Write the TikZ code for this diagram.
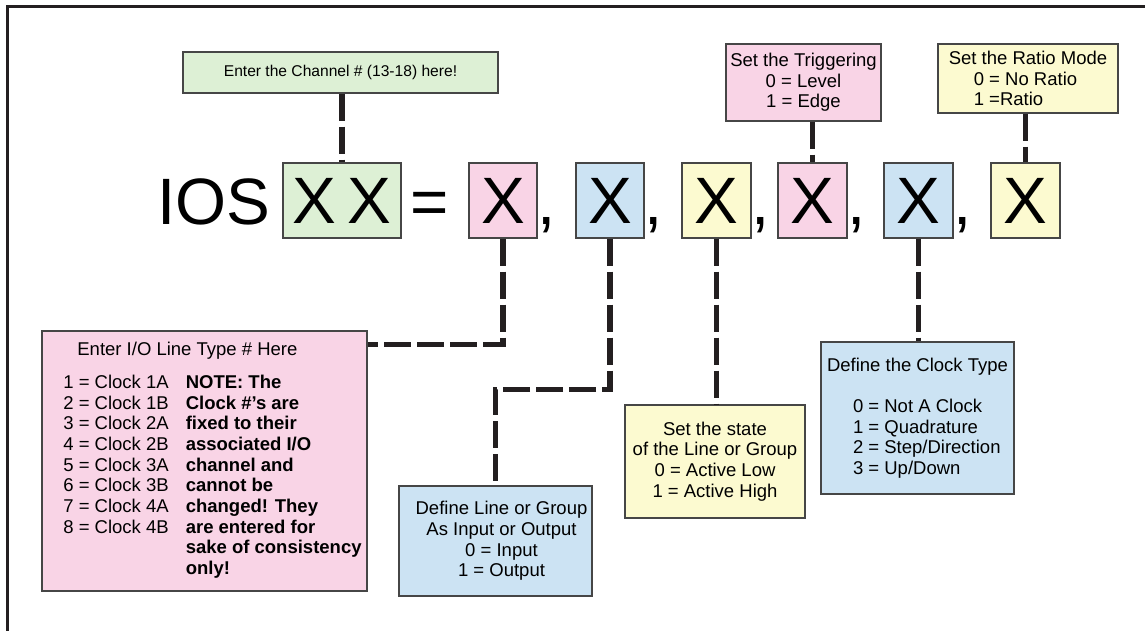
\documentclass[tikz,border=0pt]{standalone}
\usepackage{fontspec}
\setmainfont{Liberation Sans}
\definecolor{greenfill}{RGB}{221,240,213}
\definecolor{pinkfill}{RGB}{249,212,230}
\definecolor{bluefill}{RGB}{204,227,243}
\definecolor{yellowfill}{RGB}{252,250,208}
\definecolor{boxedge}{RGB}{70,70,70}
\definecolor{ink}{RGB}{35,31,32}
\newcommand{\notefont}{\fontsize{18.5pt}{20.7pt}\selectfont}
\newcommand{\signfont}{\fontsize{65.6pt}{70pt}\selectfont}
\tikzset{
  box/.style={draw=boxedge, line width=1.2pt, inner sep=0pt, align=center, font=\notefont},
  xbox/.style={box, minimum width=69pt, minimum height=75pt, font=\signfont},
  sign/.style={inner sep=0pt, font=\signfont},
  link/.style={draw=ink, line width=5.5pt, dash pattern=on 27pt off 6pt},
}
\begin{document}
\begin{tikzpicture}[x=1pt,y=-1pt]
    \useasboundingbox (0,0) rectangle (1145,631);
    \draw[ink, line width=3pt] (7,640) -- (7,7) -- (1150,7);
    \coordinate (base) at (0,224);

    % the command line
    \node[sign, anchor=base west] (ios) at (157,224) {IOS};
    \node[xbox, fill=greenfill, minimum width=118pt] (xx) at (342,200.5) {X\,X};
    \node[sign, anchor=base] (eq) at (430,224) {=};
    \node[xbox, fill=pinkfill, minimum width=68pt] (p1) at (503,200.5) {X};
    \node[xbox, fill=bluefill, minimum width=68pt] (b1) at (610,200.5) {X};
    \node[xbox, fill=yellowfill] (y1) at (716.5,200.5) {X};
    \node[xbox, fill=pinkfill] (p2) at (812.5,200.5) {X};
    \node[xbox, fill=bluefill] (b2) at (918.5,200.5) {X};
    \node[xbox, fill=yellowfill] (y2) at (1025.5,200.5) {X};
    \foreach \b in {p1,b1,y1,p2,b2}
        \node[sign, anchor=base west] (c-\b) at (\b.east |- base) {,};

    % notes above
    \node[box, fill=greenfill, minimum width=315pt, minimum height=41pt,
          font=\fontsize{15.6pt}{18pt}\selectfont] (chan) at (340.5,72.5)
          {Enter the Channel \# (13-18) here!};
    \node[box, fill=pinkfill, minimum width=155pt, minimum height=77pt] (trig) at (803.5,82.5)
          {Set the Triggering\\0 = Level\\1 = Edge};
    \node[box, fill=yellowfill, minimum width=180pt, minimum height=69pt, align=left] (ratio) at (1028,78.5)
          {Set the Ratio Mode\\\hspace*{25pt}0 = No Ratio\\\hspace*{25pt}1 =Ratio};

    % notes below
    \node[box, fill=pinkfill, minimum width=325pt, minimum height=260pt] (io) at (204.5,461) {%
        \begin{tabular}{@{\hspace{16pt}}l@{\hspace{17pt}}l@{}}
        \multicolumn{2}{@{\hspace{30pt}}l@{}}{Enter I/O Line Type \# Here}\\[12pt]
        1 = Clock 1A & \textbf{NOTE: The}\\
        2 = Clock 1B & \textbf{Clock \#’s are}\\
        3 = Clock 2A & \textbf{fixed to their}\\
        4 = Clock 2B & \textbf{associated I/O}\\
        5 = Clock 3A & \textbf{channel and}\\
        6 = Clock 3B & \textbf{cannot be}\\
        7 = Clock 4A & \textbf{changed! They}\\
        8 = Clock 4B & \textbf{are entered for}\\
                     & \textbf{sake of consistency}\\
                     & \textbf{only!}
        \end{tabular}};
    \node[box, fill=bluefill, minimum width=193pt, minimum height=110pt] (def) at (495.5,541)
          {\hspace*{12pt}Define Line or Group\\\hspace*{12pt}As Input or Output\\\hspace*{12pt}0 = Input\\\hspace*{12pt}1 = Output};
    \node[box, fill=yellowfill, minimum width=180pt, minimum height=113pt] (state) at (715,461.5)
          {Set the state\\of the Line or Group\\0 = Active Low\\1 = Active High};
    \node[box, fill=bluefill, minimum width=193pt, minimum height=152pt, align=left] (clock) at (917.5,418)
          {Define the Clock Type\\[20.7pt]
           \hspace*{26pt}0 = Not A Clock\\\hspace*{26pt}1 = Quadrature\\
           \hspace*{26pt}2 = Step/Direction\\\hspace*{26pt}3 = Up/Down};

    % dashed leaders
    \draw[link] (xx.north |- chan.south) -- (xx.north);
    \draw[link] (p2.north |- trig.south) -- (p2.north);
    \draw[link] (y2.north |- ratio.south) -- (y2.north);
    \draw[link] (p1.south) |- ([yshift=-14pt]io.north east);
    \draw[link] (b1.south) -- ++(0,151) -| (def.north);
    \draw[link] (y1.south) -- (y1.south |- state.north);
    \draw[link] (b2.south) -- (b2.south |- clock.north);
\end{tikzpicture}
\end{document}
